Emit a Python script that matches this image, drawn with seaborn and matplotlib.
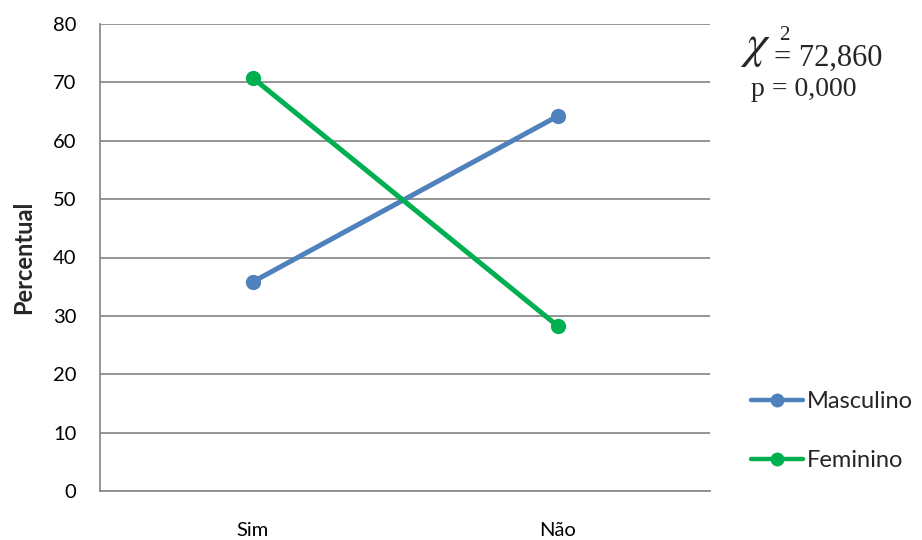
import matplotlib
matplotlib.use("Agg")
import matplotlib.pyplot as plt
import seaborn as sns
import pandas as pd

# Data
respostas = ["Sim", "Não"]
masculino = [35.8, 64.2]
feminino = [70.8, 28.3]
grupos = ["Masculino", "Feminino"]
cores = ["#4F81BD", "#00B050"]
y_ticks = [0, 10, 20, 30, 40, 50, 60, 70, 80]

df = pd.DataFrame({
    "resposta": respostas * 2,
    "percentual": masculino + feminino,
    "sexo": [grupos[0]] * len(respostas) + [grupos[1]] * len(respostas),
})

sns.set_style("white")
plt.rcParams["font.family"] = ["Lato", "DejaVu Sans"]
plt.rcParams["mathtext.fontset"] = "stix"

W, H = 922, 540
fig = plt.figure(figsize=(W / 100, H / 100), dpi=100)
ax = fig.add_axes([100 / W, 1 - 491 / H, 610 / W, (491 - 24) / H])

sns.lineplot(
    data=df, x="resposta", y="percentual", hue="sexo",
    hue_order=grupos, palette=cores, marker="o", markersize=11,
    markeredgewidth=0, linewidth=3.6, sort=False, ax=ax,
)

ax.set_xlim(-0.5, 1.5)
ax.set_ylim(0, 80)
ax.set_yticks(y_ticks)
ax.yaxis.grid(True, color="#8C8C8C", linewidth=1.3)
ax.set_axisbelow(True)
for s in ["top", "right"]:
    ax.spines[s].set_visible(False)
for s in ["left", "bottom"]:
    ax.spines[s].set_color("#8C8C8C")
    ax.spines[s].set_linewidth(1.3)
ax.tick_params(axis="both", length=0, labelsize=14.5, colors="black")
ax.tick_params(axis="y", pad=17)
ax.tick_params(axis="x", pad=22)
ax.set_xlabel("")
ax.set_ylabel("Percentual", fontsize=17, fontweight="bold", labelpad=13)

leg = ax.legend(
    loc="center left", bbox_to_anchor=(751 / W, 1 - 431 / H),
    bbox_transform=fig.transFigure, frameon=False, fontsize=17,
    labelspacing=1.6, handlelength=2.2, handletextpad=0.15,
    borderaxespad=0, borderpad=0,
)
for line in leg.get_lines():
    line.set_linewidth(3.2)
    line.set_markersize(10)

# Chi-square annotation
def px(x, y):
    return x / W, 1 - y / H

fig.text(*px(740, 57), r"$\chi$", fontsize=34, va="baseline", ha="left")
fig.text(*px(779, 40), "2", fontsize=15, family="Liberation Serif",
         va="baseline", ha="left")
fig.text(*px(774, 66), "= 72,860", fontsize=22, family="Liberation Serif",
         va="baseline", ha="left")
fig.text(*px(751, 96), "p = 0,000", fontsize=20, family="Liberation Serif",
         va="baseline", ha="left")

fig.savefig("out.png", dpi=100, facecolor="white")
